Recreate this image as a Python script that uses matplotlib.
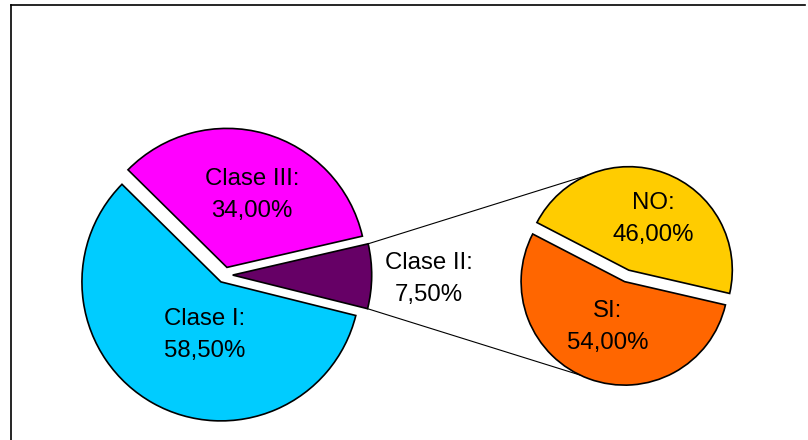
import matplotlib
matplotlib.use("Agg")
import matplotlib.pyplot as plt
import numpy as np

plt.rcParams['font.family'] = ['Liberation Sans', 'DejaVu Sans']

# Main pie (drawn counter-clockwise starting at Clase II)
main_labels = ['Clase II', 'Clase III', 'Clase I']
main_values = [7.5, 34.0, 58.5]
main_colors = ['#660066', '#FF00FF', '#00CCFF']
main_texts = ['Clase II:\n7,50%', 'Clase III:\n34,00%', 'Clase I:\n58,50%']

# Secondary pie (breakdown of Clase II)
sub_labels = ['SI', 'NO']
sub_values = [54.0, 46.0]
sub_colors = ['#FF6600', '#FFCC00']
sub_texts = ['SI:\n54,00%', 'NO:\n46,00%']

W, H = 808, 440
fig = plt.figure(figsize=(W / 100, H / 100), dpi=100)
ax = fig.add_axes([0, 0, 1, 1])

main_center = (224.8, H - 275.0)
main_r = 139
main_expl = 7.9
sub_center = (626.7, H - 275.9)
sub_r = 103.5
sub_expl = 6.1

wp = dict(edgecolor='black', linewidth=1.2)
w_main, _ = ax.pie(main_values, colors=main_colors, startangle=-14,
                   counterclock=True, radius=main_r, center=main_center,
                   explode=[main_expl] * 3, wedgeprops=wp, frame=True)
w_sub, _ = ax.pie(sub_values, colors=sub_colors, startangle=-13,
                  counterclock=False, radius=sub_r, center=sub_center,
                  explode=[sub_expl] * 2, wedgeprops=wp, frame=True)

# connector lines from Clase II wedge corners to the secondary pie
wc = w_main[0]
cx, cy = wc.center
p_top = (cx + main_r * np.cos(np.radians(wc.theta2)), cy + main_r * np.sin(np.radians(wc.theta2)))
p_bot = (cx + main_r * np.cos(np.radians(wc.theta1)), cy + main_r * np.sin(np.radians(wc.theta1)))
no_w = w_sub[1]
si_w = w_sub[0]
a_top, a_bot = np.radians(113.5), np.radians(244.5)
q_top = (no_w.center[0] + sub_r * np.cos(a_top), no_w.center[1] + sub_r * np.sin(a_top))
q_bot = (si_w.center[0] + sub_r * np.cos(a_bot), si_w.center[1] + sub_r * np.sin(a_bot))
ax.plot([p_top[0], q_top[0]], [p_top[1], q_top[1]], color='black', lw=0.8, zorder=0.5)
ax.plot([p_bot[0], q_bot[0]], [p_bot[1], q_bot[1]], color='black', lw=0.8, zorder=0.5)

# labels
fs = 17.3
ls = 1.6
label_pos_main = [(429, H - 279), (252, H - 195), (205, H - 335)]
for t, (x, y) in zip(main_texts, label_pos_main):
    ax.text(x, y, t, ha='center', va='center', multialignment='center',
            fontsize=fs, linespacing=ls, color='black')
label_pos_sub = [(608, H - 327), (653, H - 219)]
for t, (x, y) in zip(sub_texts, label_pos_sub):
    ax.text(x, y, t, ha='center', va='center', multialignment='center',
            fontsize=fs, linespacing=ls, color='black')

# chart area frame (partially visible)
ax.plot([11, 11], [0, H - 5], color='black', lw=1.2, solid_capstyle='projecting')
ax.plot([11, 805], [H - 5, H - 5], color='black', lw=1.2, solid_capstyle='projecting')

ax.set_xlim(0, W)
ax.set_ylim(0, H)
ax.set_aspect('auto')
ax.axis('off')
fig.savefig('out.png', dpi=100)
